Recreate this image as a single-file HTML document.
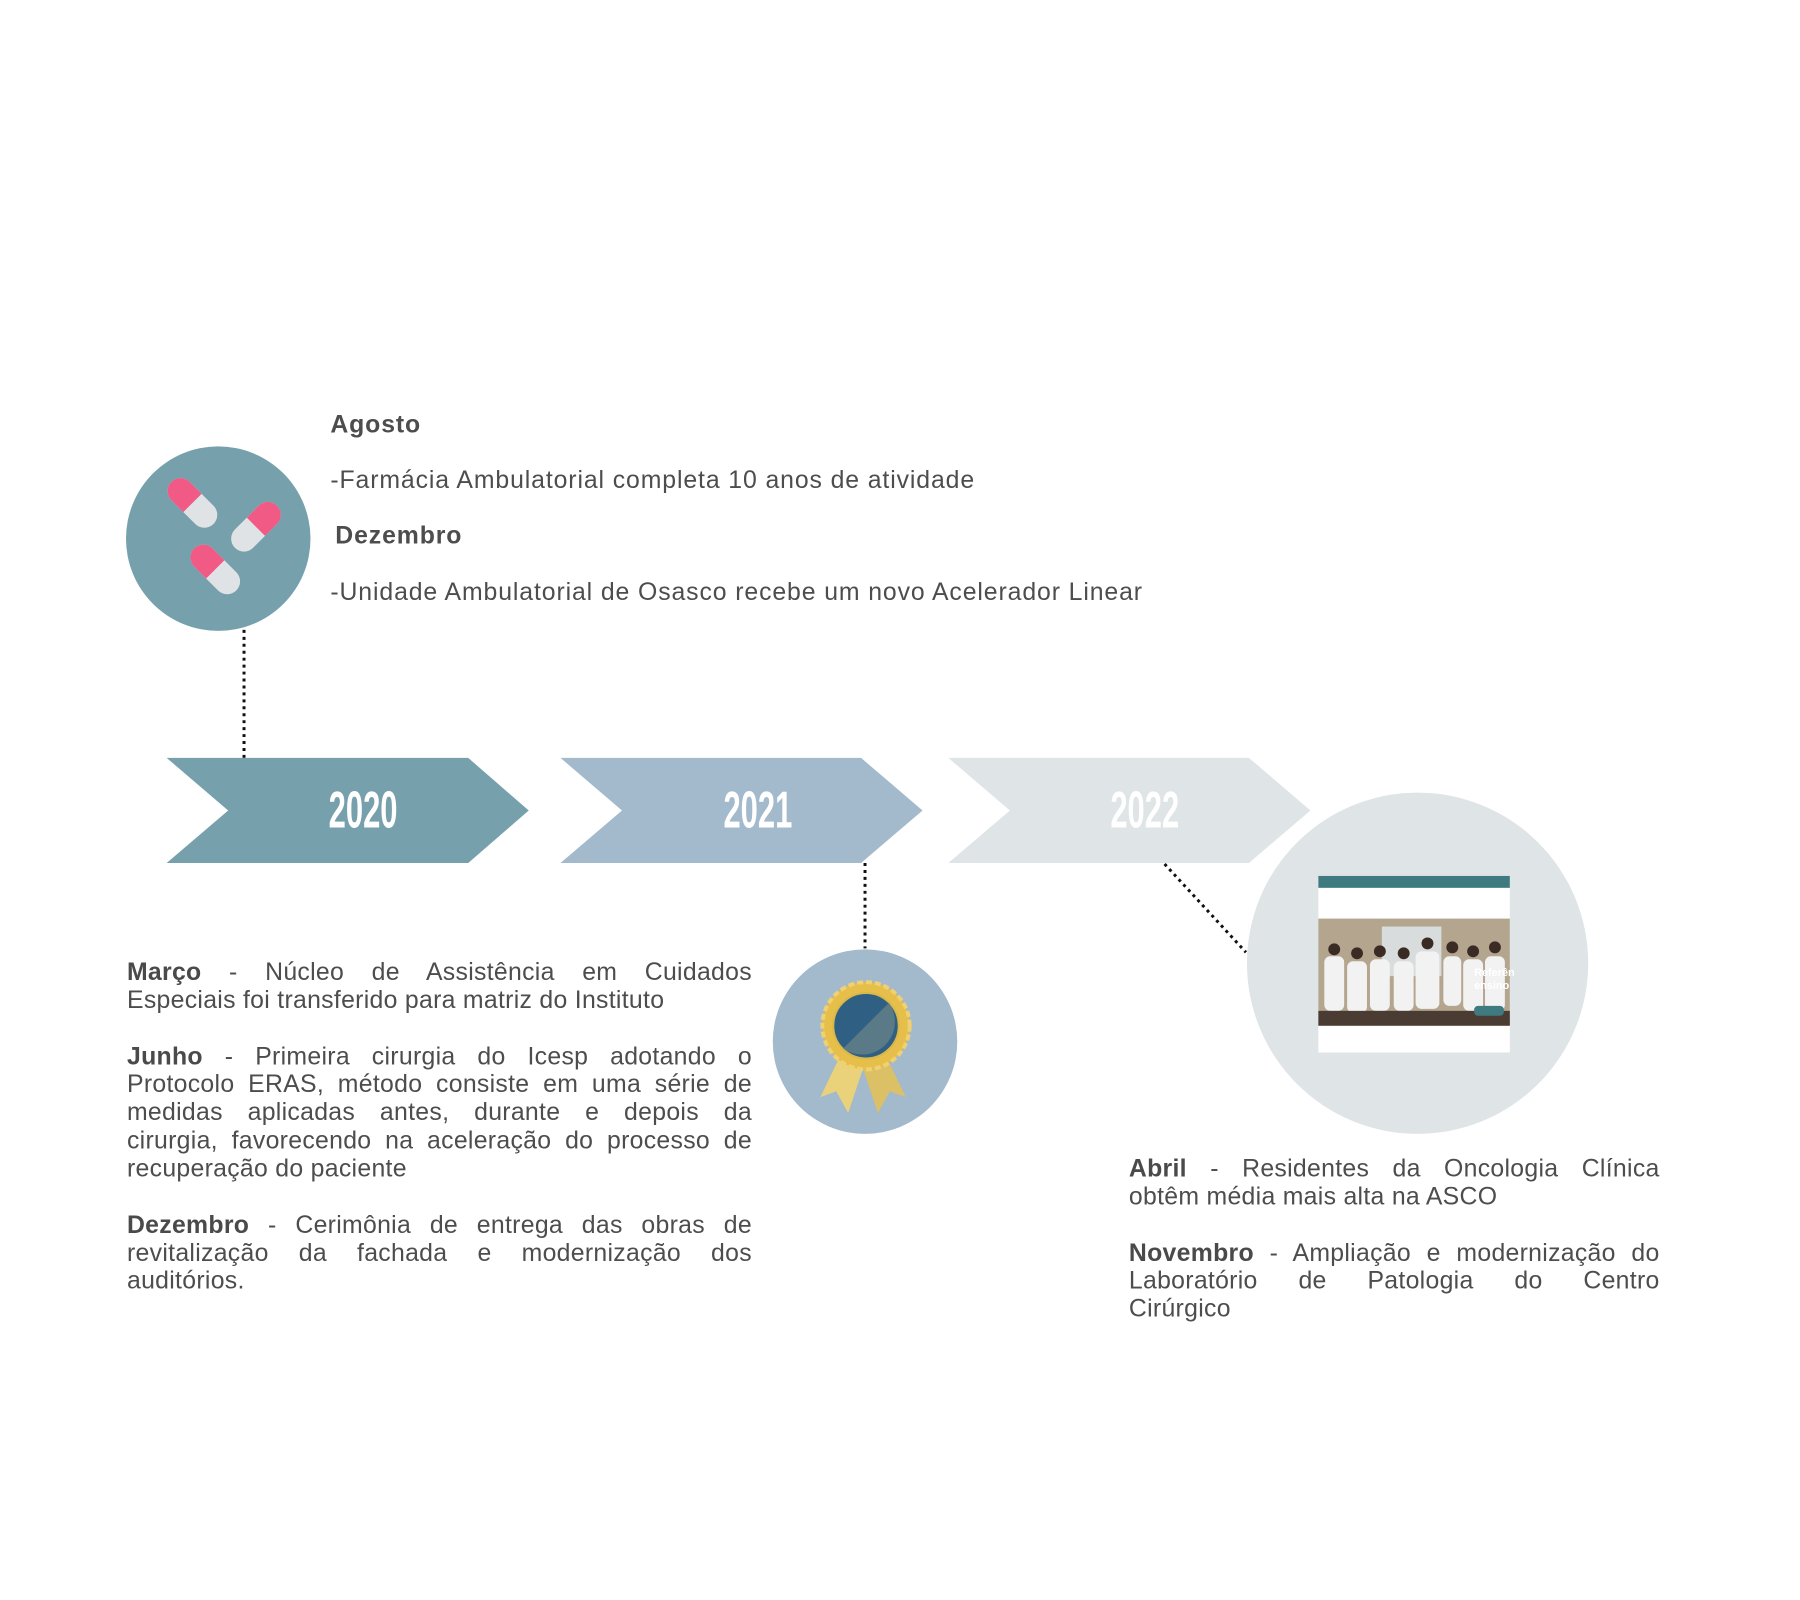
<!DOCTYPE html>
<html><head><meta charset="utf-8"><style>
body{margin:0;background:#fff;width:1800px;height:1600px;position:relative;overflow:hidden;font-family:"Liberation Sans",sans-serif;color:#4d4d4d}
#w{position:absolute;left:0;top:0;width:1800px;height:1600px;transform:scale(0.992);transform-origin:0 0}
.t{position:absolute;font-size:25px;white-space:nowrap;letter-spacing:0.9px}
.blk{position:absolute;font-size:25px;line-height:28.3px;letter-spacing:0.3px}
.j{text-align:justify;text-align-last:justify;white-space:nowrap}
.l{text-align:left;white-space:nowrap}
.g{height:28.3px}
b{color:#4a4a4a}
.yr{position:absolute;color:#fff;font-weight:bold;font-size:52px;transform:translate(-50%,-50%) scaleX(0.6);top:817px;line-height:1}
</style></head><body><div id="w">
<svg width="1800" height="1600" style="position:absolute;left:0;top:0">
<circle cx="220" cy="543" r="93" fill="#77a0ad"/>
<g transform="translate(194,507) rotate(-45)"><rect x="-13" y="-30" width="26" height="60" rx="13" fill="#dfe3e5"/><path d="M-13 0 V-17 A13 13 0 0 1 13 -17 V0Z" fill="#f05a85"/></g>
<g transform="translate(258,531) rotate(45)"><rect x="-13" y="-30" width="26" height="60" rx="13" fill="#dfe3e5"/><path d="M-13 0 V-17 A13 13 0 0 1 13 -17 V0Z" fill="#f05a85"/></g>
<g transform="translate(217,574) rotate(-45)"><rect x="-13" y="-30" width="26" height="60" rx="13" fill="#dfe3e5"/><path d="M-13 0 V-17 A13 13 0 0 1 13 -17 V0Z" fill="#f05a85"/></g>
<line x1="246" y1="635" x2="246" y2="764" stroke="#111" stroke-width="3" stroke-dasharray="3 4"/>
<polygon points="168,764 472,764 533,817 472,870 168,870 230,817" fill="#77a0ad"/>
<polygon points="565,764 868,764 930,817 868,870 565,870 627,817" fill="#a3b9cc"/>
<polygon points="956,764 1259,764 1321,817 1259,870 956,870 1018,817" fill="#dfe4e6"/>
<line x1="872" y1="870" x2="872" y2="956" stroke="#111" stroke-width="3" stroke-dasharray="3 4"/>
<line x1="1174" y1="871" x2="1256" y2="960" stroke="#111" stroke-width="3" stroke-dasharray="3 4"/>
<circle cx="872" cy="1050" r="93" fill="#a3b9cc"/>
<polygon points="850,1058 827,1106 843,1100 855,1122 873,1068" fill="#e9d27a"/>
<polygon points="890,1058 913,1106 897,1100 885,1122 867,1068" fill="#dcc066"/>
<circle cx="873" cy="1034" r="44" fill="#e5bf4a" stroke="#f0d070" stroke-width="4" stroke-dasharray="6 3"/>
<circle cx="873" cy="1034" r="33" fill="#2f5f82" stroke="#d9b84a" stroke-width="2"/>
<path d="M896 1011 A33 33 0 0 1 850 1057Z" fill="#5b7a88"/>
<circle cx="1429" cy="971" r="172" fill="#dfe4e6"/>
<g transform="translate(13,9)">
<rect x="1316" y="874" width="193" height="178" fill="#fff"/>
<rect x="1316" y="874" width="193" height="12" fill="#3f7a80"/>
<rect x="1316" y="917" width="193" height="108" fill="#b4a58e"/>
<rect x="1380" y="925" width="60" height="50" fill="#d8dcdc"/>
<g fill="#f2f2f2">
<rect x="1322" y="955" width="20" height="55" rx="6"/><rect x="1345" y="960" width="20" height="52" rx="6"/><rect x="1368" y="958" width="20" height="52" rx="6"/><rect x="1392" y="960" width="20" height="50" rx="6"/><rect x="1414" y="950" width="24" height="58" rx="6"/><rect x="1442" y="955" width="18" height="50" rx="6"/><rect x="1462" y="958" width="20" height="52" rx="6"/><rect x="1484" y="955" width="20" height="55" rx="6"/>
</g>
<g fill="#3a2c25"><circle cx="1332" cy="948" r="6"/><circle cx="1355" cy="952" r="6"/><circle cx="1378" cy="950" r="6"/><circle cx="1402" cy="952" r="6"/><circle cx="1426" cy="942" r="6"/><circle cx="1451" cy="946" r="6"/><circle cx="1472" cy="950" r="6"/><circle cx="1494" cy="946" r="6"/></g>
<rect x="1316" y="1010" width="193" height="15" fill="#4a3c33"/>
<text x="1473" y="975" font-family="Liberation Sans" font-size="11" font-weight="bold" fill="#fff">Referên</text>
<text x="1473" y="988" font-family="Liberation Sans" font-size="11" font-weight="bold" fill="#fff">ensino</text>
<rect x="1473" y="1005" width="30" height="10" rx="4" fill="#3f7a80"/>
</g>
</svg>
<div class="t" style="left:333px;top:414px;font-weight:bold">Agosto</div>
<div class="t" style="left:333px;top:470px">-Farmácia Ambulatorial completa 10 anos de atividade</div>
<div class="t" style="left:338px;top:526px;font-weight:bold">Dezembro</div>
<div class="t" style="left:333px;top:583px">-Unidade Ambulatorial de Osasco recebe um novo Acelerador Linear</div>
<div class="yr" style="left:366px">2020</div>
<div class="yr" style="left:764px">2021</div>
<div class="yr" style="left:1154px">2022</div>
<div class="blk" style="left:128px;top:966px;width:630px">
<div class="j"><b>Março</b> - Núcleo de Assistência em Cuidados</div>
<div class="l">Especiais foi transferido para matriz do Instituto</div>
<div class="g"></div>
<div class="j"><b>Junho</b> - Primeira cirurgia do Icesp adotando o</div>
<div class="j">Protocolo ERAS, método consiste em uma série de</div>
<div class="j">medidas aplicadas antes, durante e depois da</div>
<div class="j">cirurgia, favorecendo na aceleração do processo de</div>
<div class="l">recuperação do paciente</div>
<div class="g"></div>
<div class="j"><b>Dezembro</b> - Cerimônia de entrega das obras de</div>
<div class="j">revitalização da fachada e modernização dos</div>
<div class="l">auditórios.</div>
</div>
<div class="blk" style="left:1138px;top:1164px;width:535px">
<div class="j"><b>Abril</b> - Residentes da Oncologia Clínica</div>
<div class="l">obtêm média mais alta na ASCO</div>
<div class="g"></div>
<div class="j"><b>Novembro</b> - Ampliação e modernização do</div>
<div class="j">Laboratório de Patologia do Centro</div>
<div class="l">Cirúrgico</div>
</div>
</div></body></html>
